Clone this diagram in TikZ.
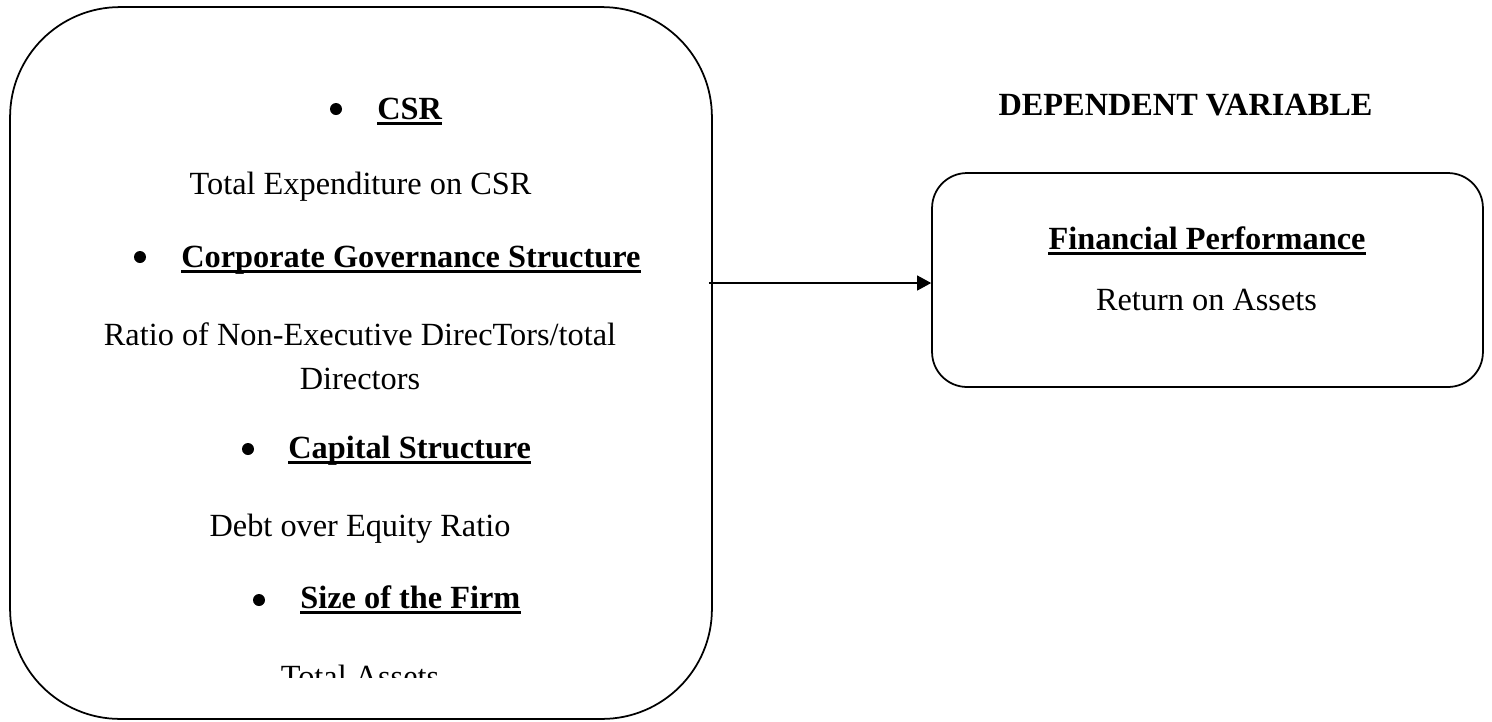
\documentclass[tikz,border=0pt]{standalone}
\usepackage{fontspec}
\setmainfont{Liberation Serif}
\usetikzlibrary{arrows.meta}
\begin{document}
\begin{tikzpicture}[x=.02cm,y=-.02cm,font=\fontsize{18.4}{22}\selectfont,
    box/.style={draw,line width=1pt,rounded corners=#1,inner sep=0pt},
    txt/.style={inner sep=0pt,anchor=base},
    hd/.style={txt,font=\fontsize{18.4}{22}\selectfont\bfseries},
    ul/.style={hd,append after command={([yshift=-.09cm]\tikzlastnode.base west)edge[line width=1.9pt]([yshift=-.09cm]\tikzlastnode.base east)}},
    dot/.style={circle,fill,inner sep=0pt,minimum size=.24cm}]
    \useasboundingbox(0,0)rectangle(1492,721);
    \node[box=2.2cm,minimum width=14.04cm,minimum height=14.24cm](indep)at(361,363){};
    \node[box=.7cm,minimum width=11.02cm,minimum height=4.28cm](fin)at(1207.5,280){};
    \node[dot](b1)at(336,109){};
    \node[ul,anchor=base west](csr)at(377,119){CSR};
    \node[txt](csrm)at(360.5,194){Total Expenditure on CSR};
    \node[dot](b2)at(140,257){};
    \node[ul,anchor=base west](cgs)at(181,267){Corporate Governance Structure};
    \node[txt](cgsm)at(360,345){Ratio of Non-Executive DirecTors/total};
    \node[txt](cgsm2)at(360,389){Directors};
    \node[dot](b3)at(248,449){};
    \node[ul,anchor=base west](cap)at(288,458){Capital Structure};
    \node[txt](capm)at(360,536){Debt over Equity Ratio};
    \node[dot](b4)at(259,600){};
    \node[ul,anchor=base west](size)at(300,608){Size of the Firm};
    \begin{scope}
        \clip(0,0)rectangle(1492,677);
        \node[txt](sizem)at(360,687){Total Assets};
    \end{scope}
    \node[hd](dep)at(1185.5,115){DEPENDENT VARIABLE};
    \node[ul](fp)at(1207,249){Financial Performance};
    \node[txt](roa)at(1206.5,310){Return on Assets};
    \draw[-{Triangle[length=.28cm,width=.3cm]},line width=.6pt]([xshift=-.08cm]indep.east|-0,283)--(fin.west|-0,283);
\end{tikzpicture}
\end{document}
